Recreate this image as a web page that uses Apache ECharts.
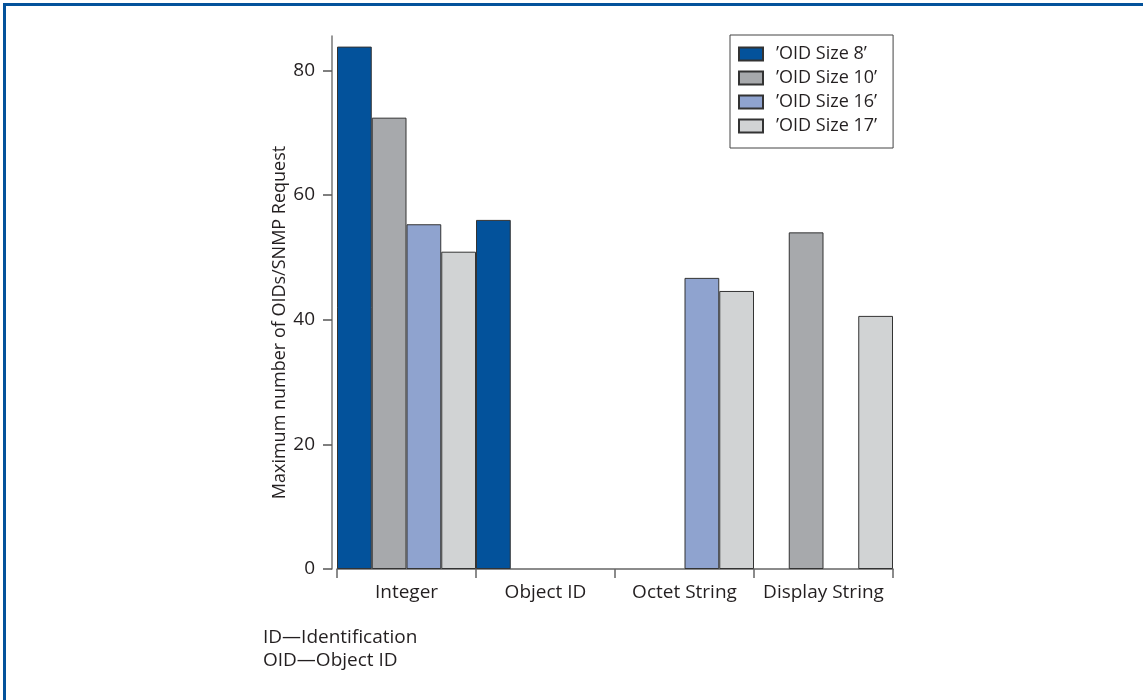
<!DOCTYPE html>
<html>
<head>
<meta charset="utf-8">
<script src="https://cdn.jsdelivr.net/npm/echarts@6/dist/echarts.min.js"></script>
<style>
html,body{margin:0;padding:0;background:#fff;}
#chart{width:1143px;height:700px;}
</style>
</head>
<body>
<div id="chart"></div>
<script>
const categories = ['Integer', 'Object ID', 'Octet String', 'Display String'];
const seriesNames = ['\u2019OID Size 8\u2019', '\u2019OID Size 10\u2019', '\u2019OID Size 16\u2019', '\u2019OID Size 17\u2019'];
const size8 = [83.8, 56.0, null, null];
const size10 = [72.4, null, null, 54.0];
const size16 = [55.3, null, 46.7, null];
const size17 = [50.9, null, 44.6, 40.6];
const yTicks = [0, 20, 40, 60, 80];
const yAxisTitle = 'Maximum number of OIDs/SNMP Request';
const footnotes = ['ID\u2014Identification', 'OID\u2014Object ID'];

const colors = ['#03529b', '#a7a9ac', '#8fa3cf', '#d1d3d4'];
const FONT = '"Open Sans", sans-serif';
const TXT = '#231f20';

const seriesData = [size8, size10, size16, size17];
const chart = echarts.init(document.getElementById('chart'), null, {renderer: 'canvas'});
chart.setOption({
  animation: false,
  backgroundColor: '#fff',
  textStyle: {fontFamily: FONT, color: TXT},
  grid: {left: 337, right: 250, top: 36, bottom: 131, containLabel: false},
  legend: {
    orient: 'vertical',
    left: 730, top: 35,
    data: seriesNames,
    icon: 'rect',
    itemWidth: 24, itemHeight: 13, itemGap: 6,
    padding: [10, 16, 13, 8],
    borderColor: '#444', borderWidth: 1,
    textStyle: {fontFamily: FONT, fontSize: 18, color: TXT, lineHeight: 18, padding: [0, 0, 0, 8]}
  },
  xAxis: {
    type: 'category',
    data: categories,
    boundaryGap: true,
    axisLine: {lineStyle: {color: '#666', width: 1.5}},
    axisTick: {show: true, alignWithLabel: false, interval: 0, length: 9, lineStyle: {color: '#666', width: 1.5}},
    axisLabel: {fontFamily: FONT, fontSize: 19, color: TXT, margin: 14, interval: 0}
  },
  yAxis: {
    type: 'value',
    min: 0, max: 85.5, interval: 20,
    offset: 5,
    name: yAxisTitle,
    nameLocation: 'middle',
    nameGap: 42,
    nameRotate: 90,
    nameTextStyle: {fontFamily: FONT, fontSize: 18, color: TXT, padding: [0, 40, 0, 0]},
    splitLine: {show: false},
    axisLine: {show: true, lineStyle: {color: '#777', width: 1.5}},
    axisTick: {show: true, inside: false, length: 9, customValues: yTicks, lineStyle: {color: '#555', width: 1.5}},
    axisLabel: {fontFamily: FONT, fontSize: 19, color: TXT, margin: 17, customValues: yTicks}
  },
  series: seriesData.map((d, i) => ({
    name: seriesNames[i],
    type: 'bar',
    data: d,
    barGap: '0%',
    barCategoryGap: '0%',
    itemStyle: {color: colors[i], borderColor: '#333', borderWidth: 1}
  })),
  graphic: [
    {type: 'rect', shape: {x: 4.5, y: 4.5, width: 1300, height: 900}, style: {fill: 'none', stroke: '#03529b', lineWidth: 3}, silent: true},
    {type: 'text', left: 263, top: 628, style: {text: footnotes[0], font: '19px ' + FONT, fill: TXT}},
    {type: 'text', left: 263, top: 651, style: {text: footnotes[1], font: '19px ' + FONT, fill: TXT}}
  ]
});
</script>
</body>
</html>
